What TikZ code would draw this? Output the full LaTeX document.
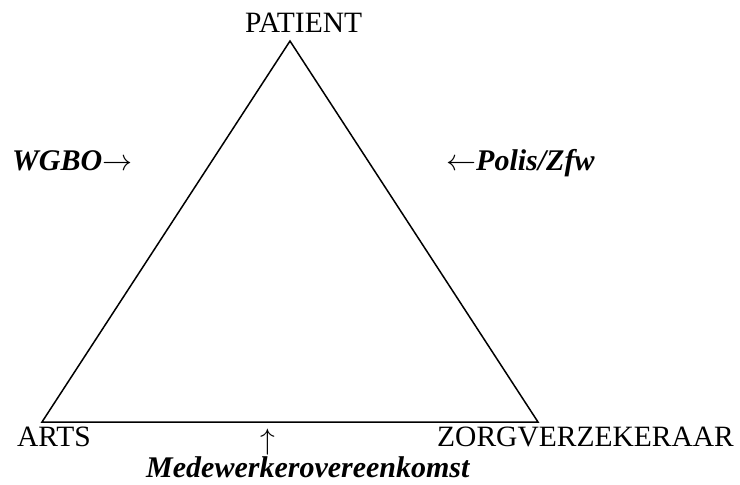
\RequirePackage{fix-cm}
\documentclass[tikz,border=0pt]{standalone}
\usepackage{fontspec}
\setmainfont{Liberation Serif}
\begin{document}
\begin{tikzpicture}[x=1pt,y=1pt,
  lbl/.style={anchor=base west,inner sep=0pt,font=\fontsize{29.5}{35}\selectfont},
  blbl/.style={lbl,font=\fontsize{30}{36}\selectfont\bfseries\itshape},
  edge/.style={line width=1.5pt,line join=miter}]
\useasboundingbox (0,0) rectangle (740,-485);
\coordinate (top) at (290,-41);
\coordinate (left) at (42,-422);
\coordinate (right) at (538,-422);
\draw[edge] (top) -- (right) -- (left) -- cycle;
\node[lbl] (patient) at (245,-32) {PATIENT};
\node[blbl] (wgbo) at (12,-170) {WGBO$\rightarrow$};
\node[blbl] (polis) at (446,-170) {$\leftarrow$Polis/Zfw};
\node[lbl] (arts) at (17,-446) {ARTS};
\node[lbl] (zorg) at (437,-446) {ZORGVERZEKERAAR};
\node[lbl,anchor=base] (arrow) at (268,-449) {$\uparrow$};
\node[blbl] (mede) at (146,-477) {Medewerkerovereenkomst};
\end{tikzpicture}
\end{document}
